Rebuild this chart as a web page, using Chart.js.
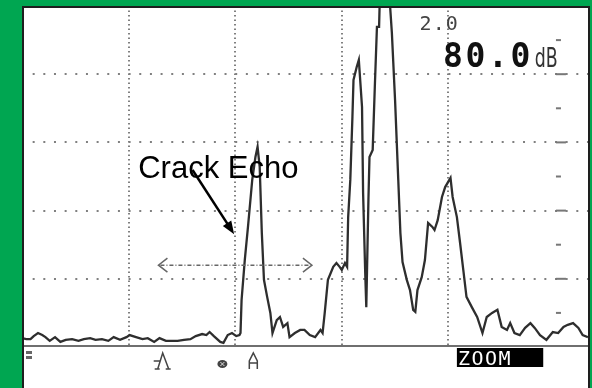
<!DOCTYPE html>
<html>
<head>
<meta charset="utf-8">
<script src="https://cdn.jsdelivr.net/npm/chart.js@4/dist/chart.umd.min.js"></script>
<style>
  html, body { margin: 0; padding: 0; background: #00a651; }
  #wrap { position: relative; width: 592px; height: 388px; }
</style>
</head>
<body>
<div id="wrap"><canvas id="scan" width="592" height="388"></canvas></div>
<script>
// A-scan: sound path position (10 units per screen division) and echo amplitude (% screen height)
const scanPos = [
  0, 0.4, 0.8, 1.1, 1.5, 1.9, 2.2, 2.6, 3.1, 3.6, 4.1, 4.7, 5.3, 5.8, 6.4, 6.9, 7.5, 8.1, 8.6, 9.2,
  9.8, 10.1, 10.7, 11.3, 11.8, 12.4, 12.9, 13.5, 14.1, 14.6, 15.2, 15.8, 16.3, 16.9, 17.3, 17.6, 18.0, 18.6, 18.9, 19.3,
  19.7, 20.1, 20.4, 20.5, 20.6, 20.9, 21.2, 21.6, 21.9, 22.1, 22.3, 22.5, 22.7, 23.0, 23.3, 23.5, 23.9, 24.2, 24.5, 24.9,
  25.1, 25.6, 26.1, 26.5, 27.0, 27.5, 28.0, 28.2, 28.4, 28.7, 29.2, 29.5, 29.8, 30.0, 30.3, 30.5, 30.6, 30.8, 31.0, 31.1,
  31.4, 31.6, 31.9, 32.0, 32.2, 32.3, 32.5, 32.6, 32.9, 33.1, 33.3, 33.5, 33.6, 34.1, 34.4, 34.7, 35.0, 35.3, 35.5, 35.7,
  36.1, 36.4, 36.7, 36.9, 37.1, 37.5, 37.8, 38.1, 38.5, 38.7, 39.0, 39.4, 39.7, 40.2, 40.4, 40.8, 41.1, 41.4, 41.7, 42.2,
  42.7, 43.2, 43.6, 44.1, 44.6, 45.0, 45.5, 45.8, 46.2, 46.7, 47.2, 47.7, 48.1, 48.6, 49.2, 49.8, 50.3, 50.8, 51.2, 51.7,
  52.2, 52.6, 53.1
];
const scanAmp = [
  2.6, 2.3, 2.3, 3.2, 4.1, 3.5, 2.9, 1.8, 2.9, 1.5, 2.1, 2.3, 1.8, 2.3, 2.6, 2.1, 2.3, 1.8, 2.9, 2.1,
  2.9, 3.5, 2.9, 2.3, 2.6, 1.5, 2.6, 1.8, 1.8, 1.8, 2.1, 2.3, 3.2, 3.8, 3.5, 4.4, 3.2, 1.5, 1.2, 3.5,
  4.1, 3.2, 3.5, 4.1, 13.8, 25.5, 35.2, 49.0, 55.7, 58.7, 52.8, 33.4, 19.7, 14.7, 10.0, 4.1, 7.9, 8.8, 5.9, 7.0,
  2.9, 4.1, 5.0, 5.0, 3.5, 2.9, 5.0, 4.1, 10.0, 19.7, 23.5, 24.6, 23.5, 22.6, 24.6, 23.5, 38.1, 49.0, 67.5, 78.3,
  82.1, 84.2, 70.4, 45.2, 21.7, 11.7, 43.1, 55.7, 57.8, 76.3, 93.9, 93.9, 106.2, 113.5, 106.2, 92.1, 72.4, 49.0, 33.4, 24.9,
  19.7, 16.7, 10.9, 10.3, 16.7, 20.5, 25.5, 36.4, 35.2, 34.3, 37.2, 44.0, 46.9, 49.6, 44.0, 38.1, 30.5, 22.6, 14.7, 11.7,
  8.8, 4.1, 8.8, 10.0, 10.9, 5.9, 5.0, 7.0, 4.1, 3.5, 5.6, 7.0, 5.6, 3.5, 2.1, 4.4, 4.1, 5.9, 6.5, 7.0,
  5.6, 3.5, 2.9
];

const screenWidth = 53.1;   // visible part of the time base
const divisionX = 10;
const divisionY = 20;

const rangeText = '2.0';
const gainValue = '80.0';
const gainUnit = 'dB';
const echoLabel = 'Crack Echo';
const zoomLabel = 'ZOOM';

// annotation anchors in data units
const echoLabelAt = { x: 10.9, y: 49.6 };
const echoArrow = { x1: 16.0, y1: 51.9, x2: 19.9, y2: 33.1 };
const gateArrow = { x1: 12.8, x2: 27.2, y: 24.0 };
const markerPos = [13.2, 18.8, 21.7];

const screenPlugin = {
  id: 'screen',
  beforeDraw(chart) {
    const { ctx, width, height, chartArea: a } = chart;
    ctx.save();
    ctx.fillStyle = '#00a651';
    ctx.fillRect(0, 0, width, height);
    ctx.fillStyle = '#ffffff';
    ctx.fillRect(a.left, a.top, a.right - a.left + 2, height - a.top);
    ctx.restore();
  },
  afterDatasetsDraw(chart) {
    const { ctx, height, chartArea: a, scales } = chart;
    const px = v => scales.x.getPixelForValue(v);
    const py = v => scales.y.getPixelForValue(v);
    const y0 = py(0);
    ctx.save();

    // baseline
    ctx.fillStyle = '#6f6f6f';
    ctx.fillRect(a.left, y0 - 2, a.right - a.left, 2);

    // side ticks on the last division line
    ctx.fillStyle = '#777';
    for (let v = 10; v < 100; v += 10) {
      const len = v % 20 === 0 ? 10 : 5;
      ctx.fillRect(px(50) + 1, py(v) - 1, len, 2);
    }

    // panel border
    ctx.fillStyle = '#1e1e1e';
    ctx.fillRect(a.left, a.top, 2, height - a.top);
    ctx.fillRect(a.left, a.top, a.right - a.left + 2, 2);
    ctx.fillRect(a.right, a.top, 2, height - a.top);

    // gate arrow
    ctx.strokeStyle = '#666';
    ctx.lineWidth = 1.5;
    ctx.setLineDash([4, 2, 1, 2]);
    ctx.beginPath();
    ctx.moveTo(px(gateArrow.x1) + 2, py(gateArrow.y));
    ctx.lineTo(px(gateArrow.x2) - 2, py(gateArrow.y));
    ctx.stroke();
    ctx.setLineDash([]);
    ctx.beginPath();
    ctx.moveTo(px(gateArrow.x1) + 9, py(gateArrow.y) - 7);
    ctx.lineTo(px(gateArrow.x1), py(gateArrow.y));
    ctx.lineTo(px(gateArrow.x1) + 9, py(gateArrow.y) + 7);
    ctx.moveTo(px(gateArrow.x2) - 9, py(gateArrow.y) - 7);
    ctx.lineTo(px(gateArrow.x2), py(gateArrow.y));
    ctx.lineTo(px(gateArrow.x2) - 9, py(gateArrow.y) + 7);
    ctx.stroke();

    // label and arrow
    ctx.fillStyle = '#000';
    ctx.font = '31px "Liberation Sans", Arial, sans-serif';
    ctx.textBaseline = 'alphabetic';
    ctx.fillText(echoLabel, px(echoLabelAt.x), py(echoLabelAt.y));

    const ax1 = px(echoArrow.x1), ay1 = py(echoArrow.y1);
    const ax2 = px(echoArrow.x2), ay2 = py(echoArrow.y2);
    const ang = Math.atan2(ay2 - ay1, ax2 - ax1);
    ctx.strokeStyle = '#000';
    ctx.lineWidth = 2.5;
    ctx.beginPath();
    ctx.moveTo(ax1, ay1);
    ctx.lineTo(ax2 - 8 * Math.cos(ang), ay2 - 8 * Math.sin(ang));
    ctx.stroke();
    ctx.beginPath();
    ctx.moveTo(ax2, ay2);
    ctx.lineTo(ax2 - 13 * Math.cos(ang) + 5 * Math.sin(ang), ay2 - 13 * Math.sin(ang) - 5 * Math.cos(ang));
    ctx.lineTo(ax2 - 13 * Math.cos(ang) - 5 * Math.sin(ang), ay2 - 13 * Math.sin(ang) + 5 * Math.cos(ang));
    ctx.closePath();
    ctx.fill();

    // range and gain readouts
    ctx.fillStyle = '#444';
    ctx.font = '20px "DejaVu Sans Mono", monospace';
    ctx.letterSpacing = '1px';
    ctx.fillText(rangeText, px(37.3), py(93.0));
    ctx.fillStyle = '#111';
    ctx.font = 'bold 33px "DejaVu Sans Mono", monospace';
    ctx.letterSpacing = '2.6px';
    ctx.fillText(gainValue, px(39.5), py(82.1));
    ctx.letterSpacing = '0px';
    ctx.fillStyle = '#333';
    ctx.font = '26px "DejaVu Sans Condensed", sans-serif';
    ctx.fillText(gainUnit, px(48.1), py(82.1), 23);

    // status row under the baseline
    ctx.fillStyle = '#000';
    ctx.fillRect(px(40.8), y0 + 1, px(48.9) - px(40.8), 19);
    ctx.fillStyle = '#fff';
    ctx.font = '20px "DejaVu Sans Mono", monospace';
    ctx.letterSpacing = '1.5px';
    ctx.fillText(zoomLabel, px(40.8) + 1, y0 + 18);
    ctx.letterSpacing = '0px';

    ctx.fillStyle = '#666';
    ctx.fillRect(a.left + 4, y0 + 4, 6, 3);
    ctx.fillRect(a.left + 4, y0 + 9, 6, 3);

    ctx.strokeStyle = '#444';
    ctx.fillStyle = '#444';
    ctx.lineWidth = 1.5;
    // first marker
    let mx = px(markerPos[0]);
    ctx.beginPath();
    ctx.moveTo(mx - 5, y0 + 22);
    ctx.lineTo(mx, y0 + 6);
    ctx.lineTo(mx + 6, y0 + 22);
    ctx.moveTo(mx - 9, y0 + 14);
    ctx.lineTo(mx - 2, y0 + 14);
    ctx.moveTo(mx - 8, y0 + 22);
    ctx.lineTo(mx - 3, y0 + 22);
    ctx.moveTo(mx + 3, y0 + 22);
    ctx.lineTo(mx + 8, y0 + 22);
    ctx.stroke();
    // second marker
    mx = px(markerPos[1]);
    ctx.beginPath();
    ctx.ellipse(mx, y0 + 17, 5, 4, 0, 0, Math.PI * 2);
    ctx.fill();
    ctx.strokeStyle = '#ddd';
    ctx.lineWidth = 1;
    ctx.beginPath();
    ctx.moveTo(mx - 2, y0 + 15);
    ctx.lineTo(mx + 2, y0 + 19);
    ctx.moveTo(mx + 2, y0 + 15);
    ctx.lineTo(mx - 2, y0 + 19);
    ctx.stroke();
    // third marker
    ctx.strokeStyle = '#444';
    ctx.lineWidth = 1.5;
    mx = px(markerPos[2]);
    ctx.beginPath();
    ctx.moveTo(mx - 4, y0 + 22);
    ctx.lineTo(mx - 4, y0 + 14);
    ctx.lineTo(mx, y0 + 6);
    ctx.lineTo(mx + 4, y0 + 14);
    ctx.lineTo(mx + 4, y0 + 22);
    ctx.moveTo(mx - 4, y0 + 16);
    ctx.lineTo(mx + 4, y0 + 16);
    ctx.stroke();

    ctx.restore();
  }
};

const gridColor = (ctx, max) => (ctx.tick.value > 0 && ctx.tick.value < max) ? '#808080' : 'rgba(0,0,0,0)';

new Chart(document.getElementById('scan'), {
  type: 'line',
  data: {
    datasets: [{
      data: scanPos.map((x, i) => ({ x: x, y: scanAmp[i] })),
      borderColor: '#2e2e2e',
      borderWidth: 2.3,
      pointRadius: 0,
      tension: 0,
      fill: false
    }]
  },
  options: {
    responsive: false,
    animation: false,
    layout: { padding: { left: 22, right: 4, top: 6, bottom: 41 } },
    plugins: { legend: { display: false }, tooltip: { enabled: false } },
    scales: {
      x: {
        type: 'linear', min: 0, max: screenWidth,
        ticks: { display: false, stepSize: divisionX },
        grid: { drawTicks: false, lineWidth: 2, color: c => gridColor(c, screenWidth - 1) },
        border: { display: false, dash: [1.5, 3] }
      },
      y: {
        min: 0, max: 100,
        ticks: { display: false, stepSize: divisionY },
        grid: { drawTicks: false, lineWidth: 2, color: c => gridColor(c, 100) },
        border: { display: false, dash: [2, 8.66] }
      }
    }
  },
  plugins: [screenPlugin]
});
</script>
</body>
</html>
